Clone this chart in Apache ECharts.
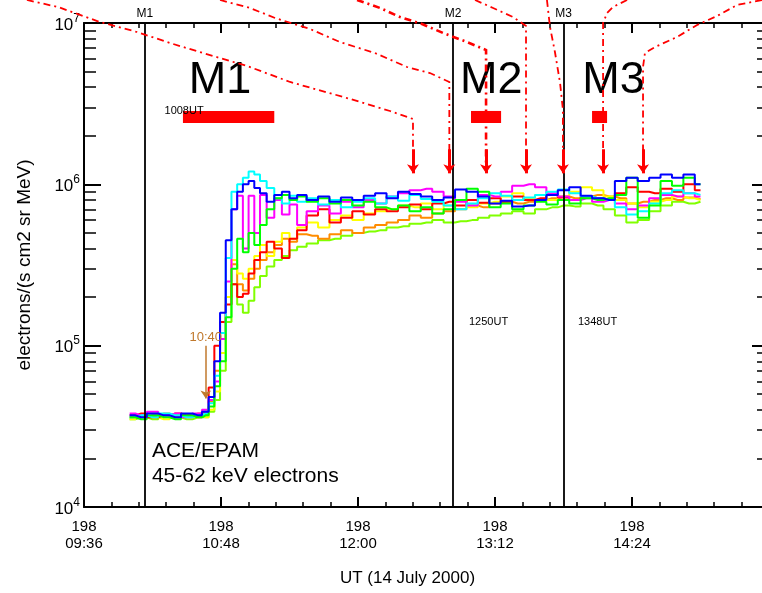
<!DOCTYPE html>
<html>
<head>
<meta charset="utf-8">
<script src="https://cdn.jsdelivr.net/npm/echarts@6/dist/echarts.min.js"></script>
<style>
  html, body { margin: 0; background: #fff; }
  #chart { width: 762px; height: 593px; }
</style>
</head>
<body>
<div id="chart"></div>
<script>
// UT minutes of day, 14 July 2000 (day 198)
const times = [600, 606, 612, 618, 624, 630, 636, 640, 643, 646,
  649, 652, 655, 658, 661, 664, 667, 670, 674, 678,
  682, 686, 690, 696, 702, 708, 714, 720, 726, 732,
  738, 744, 750, 756, 762, 768, 774, 780, 786, 792,
  798, 804, 810, 816, 822, 828, 834, 840, 846, 852,
  858, 864, 870, 876, 882, 888, 894, 900]

// electrons/(s cm2 sr MeV), one array per sector
const fluxLime = [3.5e4, 3.6e4, 3.5e4, 3.7e4, 3.6e4, 3.5e4, 3.6e4, 3.6e4, 3.9e4, 4.6e4,
  7e4, 1.4e5, 2.4e5, 1.8e5, 1.6e5, 1.9e5, 2.3e5, 2.7e5, 3.1e5, 3.4e5,
  3.6e5, 3.9e5, 4.1e5, 4.3e5, 4.5e5, 4.6e5, 4.8e5, 5.0e5, 5.1e5, 5.2e5,
  5.4e5, 5.5e5, 5.7e5, 5.8e5, 6.0e5, 5.8e5, 5.9e5, 6.0e5, 6.2e5, 6.4e5,
  6.6e5, 6.8e5, 6.6e5, 7.0e5, 7.2e5, 7.4e5, 7.3e5, 7.6e5, 7.4e5, 7.0e5,
  6.4e5, 5.8e5, 6.0e5, 6.8e5, 7.4e5, 7.8e5, 7.6e5, 7.8e5]
const fluxOrange = [3.6e4, 3.6e4, 3.7e4, 3.8e4, 3.6e4, 3.7e4, 3.8e4, 3.7e4, 4.5e4, 7e4,
  1.1e5, 2.0e5, 3.2e5, 2.4e5, 2.2e5, 2.6e5, 3.0e5, 3.4e5, 3.8e5, 4.2e5,
  4.6e5, 4.4e5, 4.9e5, 4.8e5, 4.6e5, 4.9e5, 5.2e5, 5.0e5, 5.4e5, 5.6e5,
  5.8e5, 6.0e5, 6.4e5, 6.2e5, 6.6e5, 6.8e5, 7.0e5, 7.4e5, 7.2e5, 7.6e5,
  7.8e5, 7.6e5, 7.8e5, 8.0e5, 8.2e5, 8.4e5, 8.2e5, 8.4e5, 8.6e5, 8.4e5,
  8.2e5, 7.6e5, 7.8e5, 8.0e5, 8.2e5, 8.0e5, 8.3e5, 8.1e5]
const fluxYellow = [3.5e4, 3.7e4, 3.6e4, 3.5e4, 3.7e4, 3.6e4, 3.7e4, 3.6e4, 4.0e4, 5.2e4,
  9e4, 2.0e5, 3.4e5, 2.8e5, 2.6e5, 3.0e5, 3.6e5, 4.2e5, 3.6e5, 4.4e5,
  5.0e5, 4.6e5, 5.4e5, 5.8e5, 5.4e5, 6.0e5, 6.4e5, 6.0e5, 6.6e5, 6.8e5,
  7.0e5, 7.4e5, 7.2e5, 7.6e5, 7.0e5, 7.4e5, 8.0e5, 7.2e5, 7.6e5, 7.8e5,
  8.4e5, 8.8e5, 8.2e5, 8.6e5, 8.0e5, 8.4e5, 9.0e5, 9.6e5, 9.2e5, 8.4e5,
  8.0e5, 7.6e5, 7.2e5, 7.8e5, 8.0e5, 8.4e5, 8.2e5, 8.0e5]
const fluxRed = [3.7e4, 3.8e4, 3.6e4, 3.7e4, 3.8e4, 3.7e4, 3.6e4, 3.9e4, 5.5e4, 1.0e5,
  1.4e5, 1.8e5, 2.4e5, 2.0e5, 2.1e5, 2.8e5, 3.4e5, 3.8e5, 4.4e5, 4.0e5,
  3.5e5, 4.6e5, 5.2e5, 6.4e5, 7.0e5, 5.8e5, 6.2e5, 6.8e5, 6.5e5, 7.0e5,
  6.8e5, 7.2e5, 7.5e5, 7.0e5, 7.6e5, 7.8e5, 7.4e5, 8.0e5, 7.7e5, 8.2e5,
  7.8e5, 8.4e5, 8.0e5, 8.2e5, 8.6e5, 8.3e5, 8.0e5, 8.4e5, 8.2e5, 8.0e5,
  8.8e5, 9.6e5, 9.0e5, 8.8e5, 9.4e5, 9.0e5, 1.0e6, 9.2e5]
const fluxMagenta = [3.8e4, 3.7e4, 3.9e4, 3.7e4, 3.8e4, 3.6e4, 3.8e4, 4.0e4, 4.6e4, 6e4,
  1.1e5, 2.5e5, 7e5, 8.5e5, 4e5, 8.5e5, 5e5, 8.6e5, 6.2e5, 8.0e5,
  6.5e5, 7.5e5, 5.6e5, 6.8e5, 7.4e5, 6.6e5, 7.8e5, 7.2e5, 8.0e5, 7.6e5,
  8.4e5, 8.8e5, 9.2e5, 9.4e5, 9.0e5, 8.4e5, 7.8e5, 7.4e5, 8.6e5, 8.4e5,
  9.0e5, 9.8e5, 1.0e6, 9.6e5, 8.8e5, 8.4e5, 8.0e5, 8.2e5, 7.8e5, 8.0e5,
  7.6e5, 7.0e5, 7.4e5, 8.2e5, 8.6e5, 8.4e5, 8.8e5, 8.4e5]
const fluxCyan = [3.6e4, 3.7e4, 3.6e4, 3.8e4, 3.7e4, 3.6e4, 3.7e4, 3.8e4, 4.4e4, 6.5e4,
  1.2e5, 3.5e5, 9e5, 1.0e6, 1.1e6, 1.2e6, 1.15e6, 1.05e6, 9.5e5, 8.2e5,
  7.6e5, 8.5e5, 7.8e5, 8.2e5, 7.5e5, 8.0e5, 7.2e5, 7.8e5, 8.2e5, 7.6e5,
  8.4e5, 7.9e5, 8.6e5, 8.1e5, 7.8e5, 7.4e5, 7.0e5, 7.6e5, 8.2e5, 8.8e5,
  8.5e5, 8.0e5, 8.3e5, 8.6e5, 9.0e5, 9.3e5, 8.8e5, 8.4e5, 8.2e5, 8.0e5,
  7.2e5, 6.5e5, 6.8e5, 7.6e5, 8.8e5, 9.2e5, 8.8e5, 8.6e5]
const fluxGreen = [3.6e4, 3.5e4, 3.7e4, 3.6e4, 3.5e4, 3.7e4, 3.6e4, 3.7e4, 4.2e4, 5.6e4,
  8e4, 1.5e5, 3.0e5, 4.6e5, 3.8e5, 5.0e5, 4.2e5, 5.6e5, 7.0e5, 8.2e5,
  8.6e5, 8.0e5, 8.4e5, 7.8e5, 8.2e5, 7.6e5, 8.0e5, 7.4e5, 7.8e5, 7.2e5,
  7.0e5, 7.4e5, 6.8e5, 7.2e5, 6.6e5, 7.0e5, 8.0e5, 9.4e5, 9.0e5, 7.2e5,
  7.6e5, 7.0e5, 7.4e5, 7.8e5, 7.5e5, 8.0e5, 7.6e5, 8.2e5, 8.0e5, 8.2e5,
  8.6e5, 1.1e6, 6.2e5, 7.4e5, 1.05e6, 9.8e5, 1.1e6, 1.0e6]
const fluxBlue = [3.7e4, 3.6e4, 3.8e4, 3.7e4, 3.6e4, 3.8e4, 3.7e4, 3.9e4, 4.8e4, 8e4,
  1.6e5, 4.5e5, 7e5, 9e5, 1.0e6, 1.05e6, 9.5e5, 8.8e5, 7.8e5, 8.6e5,
  9.0e5, 8.2e5, 8.6e5, 8.0e5, 8.4e5, 7.8e5, 8.3e5, 8.0e5, 8.5e5, 8.8e5,
  8.2e5, 9.0e5, 8.7e5, 8.4e5, 8.0e5, 8.3e5, 9.3e5, 9.0e5, 8.4e5, 7.6e5,
  7.9e5, 7.3e5, 7.4e5, 8.0e5, 8.6e5, 9.2e5, 9.6e5, 8.5e5, 8.2e5, 8.0e5,
  1.05e6, 1.1e6, 1.05e6, 1.1e6, 1.15e6, 1.1e6, 1.15e6, 1.0e6]

const channels = [fluxLime, fluxOrange, fluxYellow, fluxRed, fluxMagenta, fluxCyan, fluxGreen, fluxBlue]
const channelColors = ['#80ff00', '#ff8c00', '#ffff00', '#ff0000', '#ff00ff', '#00ffff', '#00ff00', '#0000ff']

// x axis ticks
const xMin = 576
const xMax = 936
const xStep = 72
const dayOfYear = '198'

// y axis decades
const yMajor = [1e4, 1e5, 1e6, 1e7]
const yMinor = [2e4, 3e4, 4e4, 5e4, 6e4, 7e4, 8e4, 9e4,
  2e5, 3e5, 4e5, 5e5, 6e5, 7e5, 8e5, 9e5,
  2e6, 3e6, 4e6, 5e6, 6e6, 7e6, 8e6, 9e6]

// event lines
const eventNames = ['M1', 'M2', 'M3']
const eventTimes = [608, 770, 828]

// averaging intervals (red bars)
const intervalStart = [628, 779.4, 843]
const intervalEnd = [676, 795.2, 850.9]
const intervalLow = 2.4e6
const intervalHigh = 2.85e6

// big labels
const bigTimes = [647.5, 790, 854.3]
const bigFlux = 4.4e6

// time stamps
const stampText = ['1008UT', '1250UT', '1348UT']
const stampTimes = [628.6, 788.6, 845.9]
const stampFlux = [2.85e6, 1.4e5, 1.4e5]

// onset marker
const onsetText = '10:40'
const onsetTime = 640
const onsetTextFlux = 1.13e5
const onsetFrom = 1.0e5
const onsetTo = 4.7e4

// instrument text
const infoText = ['ACE/EPAM', '45-62 keV electrons']
const infoTime = 611.7
const infoFlux = [2.22e4, 1.556e4]

// connector paths from the panel above: [time, flux]
const connectors = [
  [[546.0, 1.389e7], [562.3, 1.257e7], [584.4, 1.014e7], [603.9, 8.795e6], [621.2, 7.516e6], [638.5, 6.516e6],
    [661.7, 5.414e6], [684.3, 4.31e6], [714.2, 3.428e6], [736.8, 2.848e6], [748.9, 2.541e6], [748.9, 1.3e6]],
  [[647.5, 1.389e7], [663.2, 1.239e7], [676.4, 1.074e7], [694.8, 9.18e6], [710.5, 7.62e6], [728.9, 6.516e6],
    [745.8, 5.337e6], [757.8, 4.898e6], [768.0, 4.309e6], [768.0, 1.3e6]],
  [[719.5, 1.389e7], [731.6, 1.239e7], [742.1, 1.089e7], [753.6, 9.86e6], [764.7, 8.67e6], [777.3, 7.62e6],
    [787.3, 6.80e6], [787.3, 1.3e6]],
  [[781.5, 1.389e7], [791.0, 1.239e7], [801.5, 1.089e7], [808.3, 9.58e6], [808.3, 1.3e6]],
  [[819.3, 1.389e7], [820.9, 9.45e6], [823.5, 6.61e6], [826.2, 4.25e6], [827.7, 2.888e6], [827.7, 1.3e6]],
  [[861.4, 1.389e7], [854.0, 1.257e7], [850.9, 1.153e7], [848.8, 1.0e7], [848.8, 1.3e6]],
  [[932.3, 1.389e7], [919.2, 1.293e7], [908.7, 1.105e7], [898.2, 9.72e6], [887.7, 8.19e6], [876.1, 7.10e6],
    [870.8, 6.52e6], [869.8, 5.34e6], [869.8, 1.3e6]]
]
const arrowFrom = 1.65e6
const arrowTip = 1.17e6

const font = 'Liberation Sans'

function hhmm (v) {
  const h = Math.floor(v / 60)
  const m = Math.round(v % 60)
  return (h < 10 ? '0' : '') + h + ':' + (m < 10 ? '0' : '') + m
}

function xAxisCfg (pos) {
  return {
    type: 'value',
    position: pos,
    min: xMin,
    max: xMax,
    interval: xStep,
    axisLine: { show: true, lineStyle: { color: '#000', width: 2 } },
    axisTick: { show: true, inside: true, length: 10, lineStyle: { color: '#000', width: 2 } },
    minorTick: { show: true, splitNumber: 5, length: 5, lineStyle: { color: '#000', width: 1.5 } },
    splitLine: { show: false },
    axisLabel: pos === 'top' ? { show: false } : {
      show: true,
      margin: 11,
      color: '#000',
      fontFamily: font,
      fontSize: 15,
      lineHeight: 17,
      formatter: v => (v > 900 ? '' : dayOfYear + '\n' + hhmm(v))
    }
  }
}

function yAxisCfg (pos, minor, labels) {
  return {
    type: 'log',
    logBase: 10,
    position: pos,
    min: 1e4,
    max: 1e7,
    axisLine: { show: !minor, lineStyle: { color: '#000', width: 2 } },
    axisTick: {
      show: true,
      inside: true,
      length: minor ? 12 : 17,
      customValues: minor ? yMinor : yMajor,
      lineStyle: { color: '#000', width: minor ? 1.5 : 2 }
    },
    splitLine: { show: false },
    axisLabel: labels ? {
      show: true,
      customValues: yMajor,
      margin: 4,
      formatter: v => '{b|10}{s|' + Math.round(Math.log10(v)) + '}',
      rich: {
        b: { fontFamily: font, fontSize: 17, color: '#000', lineHeight: 21, verticalAlign: 'bottom' },
        s: { fontFamily: font, fontSize: 12, color: '#000', lineHeight: 12, verticalAlign: 'top' }
      }
    } : { show: false }
  }
}

const chart = echarts.init(document.getElementById('chart'))

const xBottom = xAxisCfg('bottom')
xBottom.name = 'UT (14 July 2000)'
xBottom.nameLocation = 'middle'
xBottom.nameGap = 63
xBottom.nameTextStyle = { fontFamily: font, fontSize: 17, color: '#000', padding: [0, 38, 0, 0] }

const yLeft = yAxisCfg('left', false, true)
yLeft.name = 'electrons/(s cm2 sr MeV)'
yLeft.nameLocation = 'middle'
yLeft.nameGap = 50
yLeft.nameTextStyle = { fontFamily: font, fontSize: 19, color: '#000' }

const dataSeries = channels.map((arr, k) => ({
  type: 'line',
  step: 'middle',
  symbol: 'none',
  z: 3,
  lineStyle: { color: channelColors[k], width: 2 },
  data: times.map((t, i) => [t, arr[i]])
}))

chart.setOption({
  animation: false,
  backgroundColor: '#fff',
  grid: { left: 84, top: 23, width: 685, height: 484, containLabel: false, outerBoundsMode: 'none' },
  xAxis: [xBottom, xAxisCfg('top')],
  yAxis: [
    yLeft,
    yAxisCfg('left', true, false),
    yAxisCfg('right', false, false),
    yAxisCfg('right', true, false)
  ],
  series: dataSeries.concat([
    {
      // event lines, bars and texts
      type: 'scatter',
      symbolSize: 0,
      z: 5,
      silent: true,
      itemStyle: { opacity: 1 },
      data: bigTimes.map((t, i) => ({
        value: [t, bigFlux],
        label: { show: true, position: 'inside', formatter: eventNames[i], fontFamily: font, fontSize: 45, color: '#000' }
      })).concat(stampText.map((s, i) => ({
        value: [stampTimes[i], stampFlux[i]],
        label: { show: true, position: 'inside', formatter: s, fontFamily: font, fontSize: 11, color: '#000' }
      }))).concat([{
        value: [onsetTime, onsetTextFlux],
        label: { show: true, position: 'inside', formatter: onsetText, fontFamily: font, fontSize: 13, color: '#c0782c' }
      }]).concat(infoText.map((s, i) => ({
        value: [infoTime, infoFlux[i]],
        label: { show: true, position: 'right', distance: 0, formatter: s, fontFamily: font, fontSize: 21, color: '#000' }
      }))),
      markLine: {
        silent: true,
        symbol: 'none',
        lineStyle: { color: '#000', width: 1.8, type: 'solid' },
        label: { show: true, position: 'end', distance: 3, fontFamily: font, fontSize: 12, color: '#000', formatter: p => p.name },
        data: eventTimes.map((t, i) => ({ name: eventNames[i], xAxis: t }))
      },
      markArea: {
        silent: true,
        itemStyle: { color: '#ff0000', opacity: 1 },
        data: intervalStart.map((t, i) => [
          { xAxis: t, yAxis: intervalLow },
          { xAxis: intervalEnd[i], yAxis: intervalHigh }
        ])
      }
    },
    {
      // onset arrow
      type: 'line',
      data: [],
      markLine: {
        silent: true,
        symbol: ['none', 'arrow'],
        symbolSize: 8,
        lineStyle: { color: '#c0782c', width: 1.5, type: 'solid' },
        label: { show: false },
        data: [[{ coord: [onsetTime, onsetFrom] }, { coord: [onsetTime, onsetTo] }]]
      }
    },
    {
      // dashed connectors from the panel above
      type: 'lines',
      coordinateSystem: 'cartesian2d',
      polyline: true,
      clip: false,
      silent: true,
      z: 6,
      lineStyle: { color: '#ff0000', width: 1.8, type: [7, 4, 2, 4], opacity: 1 },
      data: connectors.map((c, i) => ({
        coords: c,
        lineStyle: i === 2 ? { width: 2.6 } : {}
      }))
    },
    {
      // arrowheads at the end of each connector
      type: 'lines',
      coordinateSystem: 'cartesian2d',
      clip: false,
      silent: true,
      z: 6,
      symbol: ['none', 'arrow'],
      symbolSize: 9,
      lineStyle: { color: '#ff0000', width: 3, opacity: 1 },
      data: connectors.map(c => ({
        coords: [[c[c.length - 1][0], arrowFrom], [c[c.length - 1][0], arrowTip]]
      }))
    }
  ])
})
</script>
</body>
</html>
